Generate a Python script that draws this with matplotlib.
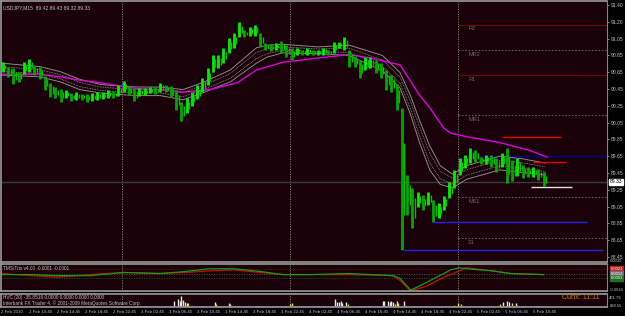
import numpy as np
import matplotlib
matplotlib.use('Agg')
import matplotlib.pyplot as plt

plt.rcParams['font.family'] = ['Liberation Sans', 'DejaVu Sans']

W, H = 625, 316
BG = '#1a0008'
FG = '#c0c0c0'

# USDJPY M15, one entry per 3 bars (45 min), first bar 2 Feb 06:45
hi = [90.73, 90.68, 90.66, 90.62, 90.73, 90.77, 90.69, 90.68, 90.57, 90.49,
      90.44, 90.42, 90.41, 90.37, 90.38, 90.36, 90.36, 90.37, 90.38, 90.38,
      90.41, 90.39, 90.46, 90.51, 90.45, 90.43, 90.43, 90.43, 90.44, 90.44,
      90.49, 90.46, 90.45, 90.41, 90.27, 90.31, 90.38, 90.46, 90.55, 90.66,
      90.82, 90.82, 90.90, 91.01, 91.07, 91.20, 91.11, 91.14, 91.17, 91.07,
      90.96, 90.94, 90.96, 90.98, 90.93, 90.90, 90.90, 90.87, 90.90, 90.87,
      90.87, 90.90, 90.87, 90.97, 90.97, 91.03, 90.87, 90.80, 90.76, 90.79,
      90.79, 90.76, 90.72, 90.64, 90.58, 90.48, 90.20, 89.41, 89.26, 89.21,
      89.18, 89.21, 89.12, 89.08, 89.17, 89.33, 89.47, 89.61, 89.65, 89.73,
      89.70, 89.62, 89.65, 89.65, 89.61, 89.67, 89.73, 89.59, 89.61, 89.53,
      89.50, 89.50, 89.48, 89.44]
lo = [90.62, 90.56, 90.48, 90.50, 90.59, 90.62, 90.58, 90.53, 90.41, 90.32,
      90.31, 90.27, 90.31, 90.28, 90.29, 90.29, 90.27, 90.28, 90.29, 90.30,
      90.31, 90.31, 90.34, 90.38, 90.35, 90.28, 90.34, 90.35, 90.37, 90.36,
      90.38, 90.38, 90.32, 90.17, 90.04, 90.14, 90.22, 90.30, 90.38, 90.46,
      90.62, 90.66, 90.72, 90.84, 90.90, 91.03, 91.03, 91.04, 91.04, 90.91,
      90.87, 90.86, 90.87, 90.84, 90.79, 90.76, 90.82, 90.82, 90.82, 90.82,
      90.82, 90.82, 90.82, 90.84, 90.90, 90.87, 90.68, 90.68, 90.55, 90.64,
      90.66, 90.60, 90.55, 90.41, 90.38, 90.17, 88.53, 88.94, 88.79, 89.04,
      89.00, 89.06, 88.86, 88.91, 89.00, 89.14, 89.26, 89.41, 89.49, 89.55,
      89.56, 89.54, 89.54, 89.50, 89.45, 89.50, 89.32, 89.34, 89.40, 89.38,
      89.39, 89.39, 89.35, 89.28]

# slow moving average (magenta)
ma_bar = [0, 22, 34, 45, 57, 69, 79, 91, 104, 119, 135, 146, 161, 181, 199,
          211, 228, 239, 245, 253, 257, 266, 285, 302, 312]
ma_val = [90.59, 90.59, 90.56, 90.52, 90.49, 90.45, 90.42, 90.41, 90.38, 90.41,
          90.49, 90.64, 90.73, 90.78, 90.82, 90.78, 90.70, 90.35, 90.20, 89.96,
          89.90, 89.86, 89.79, 89.70, 89.62]

# envelope channel (gray)
band_bar = [0, 22, 34, 45, 57, 69, 79, 91, 104, 115, 131, 146, 152, 161, 181,
            199, 218, 228, 234, 239, 245, 251, 258, 266, 285, 298, 311]
band_mid = [90.65, 90.62, 90.56, 90.47, 90.42, 90.40, 90.39, 90.39, 90.35, 90.43,
            90.57, 90.81, 90.86, 90.89, 90.87, 90.87, 90.72, 90.52, 90.23, 89.93,
            89.61, 89.41, 89.34, 89.44, 89.55, 89.52, 89.48]
band_hw = [0.07, 0.06, 0.06, 0.06, 0.05, 0.05, 0.05, 0.05, 0.06, 0.06,
           0.07, 0.09, 0.07, 0.05, 0.04, 0.06, 0.09, 0.09, 0.11, 0.13,
           0.14, 0.11, 0.08, 0.08, 0.08, 0.08, 0.07]

# pivot levels for 5 Feb
piv_names = ['R2', 'MR2', 'R1', 'MR1', 'MS1', 'S1']
piv_vals = [91.17, 90.87, 90.58, 90.11, 89.15, 88.67]
pivot = 89.63
day_start = 261

# other horizontal objects: (start bar, end bar, price)
seg_blue = [(230, 344, 88.53), (247, 335, 88.86)]
seg_red = [(286, 320, 89.86), (304, 323, 89.56)]
seg_white = [(303, 326, 89.27)]
last_price = 89.33

# TMS / Trix lines
trix_bar = [0, 17, 32, 51, 70, 91, 106, 119, 133, 148, 161, 177, 199, 224,
            228, 234, 239, 243, 253, 257, 262, 266, 281, 291, 310]
trix_red = [0.0012, 0.0008, 0.0005, 0.0010, 0.0014, 0.0012, 0.0014, 0.0017,
            0.0019, 0.0014, 0.0010, 0.0010, 0.0010, 0.0008, -0.0001, -0.0021,
            -0.0016, -0.0012, 0.0005, 0.0010, 0.0017, 0.0023, 0.0017, 0.0012,
            0.0010]
trix_green = [0.0010, 0.0010, 0.0008, 0.0008, 0.0014, 0.0012, 0.0016, 0.0021,
              0.0021, 0.0016, 0.0010, 0.0010, 0.0012, 0.0008, 0.0003, -0.0019,
              -0.0012, -0.0005, 0.0012, 0.0019, 0.0023, 0.0021, 0.0017, 0.0012,
              0.0010]

# volume histogram
vol_bar = [99, 101, 102, 103, 104, 105, 106, 107, 122, 123, 130, 131, 165, 166,
           191, 192, 193, 194, 195, 197, 198, 218, 219, 221, 222, 223, 224, 225,
           226, 227, 230, 231, 259, 261, 263, 285, 287, 289, 290, 292, 294, 295]
vol_val = [259, 333, 259, 444, 296, 185, 148, 148, 185, 111, 148, 111, 111, 148,
           333, 185, 185, 222, 148, 185, 111, 259, 222, 222, 185, 222, 185, 111,
           222, 148, 259, 74, 74, 148, 111, 111, 185, 222, 185, 148, 148, 74]
vol_col = ['w', 'w', 'w', 'w', 'w', 'w', 'w', 'y', 'w', 'y', 'y', 'w', 'y', 'y',
           'w', 'w', 'w', 'w', 'w', 'w', 'y', 'w', 'w', 'w', 'w', 'w', 'w', 'y',
           'w', 'y', 'w', 'g', 'g', 'y', 'y', 'y', 'w', 'w', 'w', 'y', 'w', 'g']

xlabels = ['2 Feb 2010', '2 Feb 10:45', '2 Feb 14:45', '2 Feb 18:45', '2 Feb 22:45',
           '3 Feb 02:45', '3 Feb 06:45', '3 Feb 10:45', '3 Feb 14:45', '3 Feb 18:45',
           '3 Feb 22:45', '4 Feb 02:45', '4 Feb 06:45', '4 Feb 10:45', '4 Feb 14:45',
           '4 Feb 18:45', '4 Feb 22:45', '5 Feb 02:45', '5 Feb 06:45', '5 Feb 10:45']
ylabels = ['91.40', '91.20', '91.05', '90.85', '90.65', '90.45', '90.25', '90.05',
           '89.85', '89.65', '89.45', '89.25', '89.05', '88.85', '88.65', '88.45']
separators = [69, 165, 261]


def box(x0, y0, x1, y1):
    return [x0 / W, 1 - y1 / H, (x1 - x0) / W, (y1 - y0) / H]


fig = plt.figure(figsize=(W / 100, H / 100), dpi=100, facecolor='black')
ax = fig.add_axes(box(1, 1, 607, 262))
ax2 = fig.add_axes(box(1, 264, 607, 291))
ax3 = fig.add_axes(box(1, 294, 607, 307))

XMAX = 606 / 1.75
for a in (ax, ax2, ax3):
    a.set_facecolor(BG)
    a.set_xlim(0, XMAX)
    for s in a.spines.values():
        s.set_color('#9a9a9a')
        s.set_linewidth(1.2)
    a.spines['right'].set_color('#7c7ca8')
    a.spines['right'].set_linewidth(0.8)
    a.tick_params(axis='x', bottom=False, labelbottom=False)
    a.yaxis.tick_right()
    for b in separators:
        a.axvline(b, color='#8a8a8a', lw=0.6, ls=(0, (1.5, 1.5)))

# main price panel
ax.set_ylim(91.459 - 0.011706 * 262, 91.459 - 0.011706 * 1)
ypos = np.linspace(91.40, 88.45, len(ylabels))
ax.set_yticks(ypos, ylabels)
ax.tick_params(axis='y', colors=FG, labelsize=3.6, length=1.5, pad=1, width=0.5)

ax.axhline(last_price, color='#363f36', lw=1)
for name, v in zip(piv_names, piv_vals):
    if name.startswith('M') or name == 'S1':
        ax.hlines(v, day_start, XMAX, color='#5a5a5a', lw=0.8, ls=(0, (1.5, 1.5)))
    else:
        ax.hlines(v, day_start, XMAX, color='#6e0000', lw=0.8)
    ax.text(day_start + 6, v - 0.02, name, color='#6a6a6a', fontsize=4, va='top')
ax.hlines(pivot, day_start, XMAX, color='#000090', lw=1)

mid = np.array(band_mid)
hw = np.array(band_hw)
ax.plot(band_bar, mid + hw, color='#8a8a8a', lw=0.7)
ax.plot(band_bar, mid - hw, color='#8a8a8a', lw=0.7)
ax.plot(band_bar, mid + hw * 0.4, color='#9a9a9a', lw=0.6, ls=(0, (1, 1)))
ax.plot(band_bar, mid - hw * 0.4, color='#9a9a9a', lw=0.6, ls=(0, (1, 1)))
ax.plot(ma_bar, ma_val, color='#e000e0', lw=1)

xb = np.arange(len(hi)) * 3 + 1
hi_a = np.array(hi)
lo_a = np.array(lo)
midp = (hi_a + lo_a) / 2
up = np.r_[True, midp[1:] >= midp[:-1]]
ax.vlines(xb[up], lo_a[up], hi_a[up], color='#00f000', lw=2.0)
ax.vlines(xb[~up], lo_a[~up], hi_a[~up], color='#00a800', lw=2.0)
ax.vlines(xb + 1.5, (lo_a + midp) / 2, (hi_a + midp) / 2, color='#00c000', lw=1.0)

for x0, x1, v in seg_blue:
    ax.hlines(v, x0, x1, color='#2424e0', lw=1)
for x0, x1, v in seg_red:
    ax.hlines(v, x0, x1, color='#e00000', lw=1)
for x0, x1, v in seg_white:
    ax.hlines(v, x0, x1, color='#e0e0e0', lw=1)

ax.text(1.004, last_price, f'{last_price:.2f}', transform=ax.get_yaxis_transform(),
        fontsize=3.6, color='black', va='center', ha='left',
        bbox=dict(boxstyle='square,pad=0.15', fc='white', ec='white'))
ax.text(0.004, 0.985, 'USDJPY,M15  89.42 89.43 89.32 89.33', transform=ax.transAxes,
        fontsize=3.6, color=FG, va='top')

# TMS / Trix panel
ax2.set_ylim(-0.0021, 0.0030)
ax2.set_yticks([])
for v, c in [(0.0021, '#6e1010'), (0.0012, '#505050'), (0.0003, '#105a10')]:
    ax2.axhline(v, color=c, lw=0.6, ls=(0, (1.5, 1.5)))
ax2.plot(trix_bar, trix_red, color='#c01010', lw=0.9)
ax2.plot(trix_bar, trix_green, color='#10a010', lw=0.9)
ax2.text(0.004, 0.93, 'TMS/Trix v4.00 -0.0001 -0.0001', transform=ax2.transAxes,
         fontsize=3.4, color=FG, va='top')
ax2.text(1.004, 1.1, '0.0035', transform=ax2.transAxes, fontsize=3.0, color=FG, va='center')
ax2.text(1.004, 0.05, '-0.0018', transform=ax2.transAxes, fontsize=3.0, color=FG, va='center')
for v, t, c in [(0.0021, '0.0021', '#c02020'), (0.0012, '0.0012', '#707070'),
                (0.0003, '0.0003', '#207020')]:
    ax2.text(1.006, v, t, transform=ax2.get_yaxis_transform(), fontsize=3.0,
             color='white', va='center', bbox=dict(boxstyle='square,pad=0.1', fc=c, ec=c))

# volume panel
ax3.set_ylim(0, 520)
ax3.set_yticks([])
cmap = {'w': '#e8e8e8', 'y': '#e8e800', 'g': '#10b010'}
ax3.vlines(vol_bar, 0, vol_val, colors=[cmap[c] for c in vol_col], lw=1)
ax3.hlines(40, 76, 312, color='#2030c0', lw=0.8, ls=(0, (1, 1)))
ax3.text(0.004, 0.9, 'HVC (20) -35.8516 0.0000 0.0000 0.0000 0.0000', transform=ax3.transAxes,
         fontsize=3.4, color=FG, va='top')
ax3.text(0.004, 0.3, 'Interbank FX Trader 4, \u00a9 2001-2009 MetaQuotes Software Corp.',
         transform=ax3.transAxes, fontsize=3.4, color=FG, va='center')
ax3.text(0.925, 0.72, 'Curfx: 11:11', transform=ax3.transAxes, fontsize=5,
         color='#c08000', va='center', ha='left')
ax3.text(1.004, 0.72, '401.79', transform=ax3.transAxes, fontsize=3.0, color=FG, va='center')
ax3.text(1.004, 0.1, '828.55', transform=ax3.transAxes, fontsize=3.0, color=FG, va='center')

# time axis
for i, lab in enumerate(xlabels):
    ax3.text(i * 16, -0.38, lab, transform=ax3.get_xaxis_transform(),
             fontsize=3.2, color=FG, va='center', ha='left')

fig.savefig('out.png', dpi=100, facecolor='black')
